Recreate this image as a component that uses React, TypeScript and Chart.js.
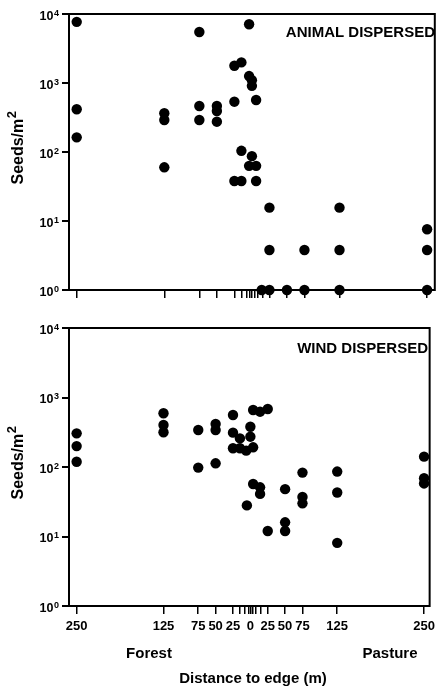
import { useEffect, useRef } from 'react';
import { Chart, registerables } from 'chart.js';

Chart.register(...registerables);

const FONT = '"Liberation Sans", Arial, Helvetica, sans-serif';

// ---- axis ticks ----
const xTickValues = [-250, -125, -75, -50, -25, -15, -8, -3, 0, 4, 8, 15, 25, 50, 75, 125, 250];
const labeledXTicks = [-250, -125, -75, -50, -25, 0, 25, 50, 75, 125, 250];
const yTickValues = [1, 10, 100, 1000, 10000];
const yTickExponents = ['0', '1', '2', '3', '4'];

// ---- ANIMAL DISPERSED ----
const animalDistance = [
  -250, -250, -250,
  -125, -125, -125,
  -75, -75, -75,
  -50, -50, -50,
  -25, -25, -25,
  -15, -15, -15,
  -4, -4, -4,
  0, 0, 0,
  6, 6, 6,
  14,
  25, 25, 25,
  50,
  75, 75,
  125, 125, 125,
  250, 250, 250,
];
const animalSeeds = [
  7700, 416, 163,
  364, 291, 60,
  5490, 464, 291,
  464, 393, 275,
  1780, 536, 38,
  1990, 104, 38,
  7100, 1260, 63,
  1100, 910, 87,
  567, 63, 38,
  1,
  15.6, 3.8, 1,
  1,
  3.8, 1,
  15.6, 3.8, 1,
  7.6, 3.8, 1,
];

// ---- WIND DISPERSED ----
const windDistance = [
  -250, -250, -250,
  -125, -125, -125,
  -75, -75,
  -50, -50, -50,
  -25, -25, -25,
  -15, -15,
  0, 0,
  -6, -5,
  4, 4, 4,
  14, 14, 14,
  25, 25,
  50, 50, 50,
  75, 75, 75,
  125, 125, 125,
  250, 250, 250,
];
const windSeeds = [
  305, 200, 119,
  593, 402, 316,
  341, 98,
  416, 341, 113,
  560, 312, 186,
  258, 186,
  380, 273,
  172, 28,
  661, 192, 57,
  625, 51, 41,
  683, 12,
  48, 16, 12,
  83, 37, 30,
  86, 43, 8.1,
  141, 69, 58,
];

type TextItem = { text: string; x: number; y: number; align: CanvasTextAlign; baseline: CanvasTextBaseline; size: number };

type PanelSpec = {
  distance: number[];
  seeds: number[];
  padTop: number;
  padRight: number;
  xMax: number;
  xAxisHeight: number;
  showXLabels: boolean;
  yTitleY: number;
  texts: TextItem[];
};

function buildChart(canvas: HTMLCanvasElement, spec: PanelSpec) {
  const points = spec.distance.map((d, i) => ({ x: d, y: spec.seeds[i] }));

  const framePlugin = {
    id: 'frame',
    beforeDatasetsDraw(chart: any) {
      const { ctx, chartArea } = chart;
      ctx.save();
      ctx.strokeStyle = '#000';
      ctx.lineWidth = 2;
      ctx.strokeRect(chartArea.left, chartArea.top, chartArea.right - chartArea.left, chartArea.bottom - chartArea.top);
      ctx.restore();
    },
  };

  const textPlugin = {
    id: 'texts',
    afterDraw(chart: any) {
      const { ctx } = chart;
      ctx.save();
      ctx.fillStyle = '#000';
      for (const t of spec.texts) {
        ctx.font = `bold ${t.size}px ${FONT}`;
        ctx.textAlign = t.align;
        ctx.textBaseline = t.baseline;
        ctx.fillText(t.text, t.x, t.y);
      }
      // y tick labels: 10 with superscript exponent, positioned by the log scale
      const yScale = chart.scales.y;
      const right = 59;
      yTickValues.forEach((v, i) => {
        const py = yScale.getPixelForValue(v);
        const exp = yTickExponents[i];
        ctx.font = `bold 9px ${FONT}`;
        const wSup = ctx.measureText(exp).width;
        ctx.textAlign = 'left';
        ctx.textBaseline = 'alphabetic';
        ctx.fillText(exp, right - wSup, py + 1.5);
        ctx.font = `bold 12.5px ${FONT}`;
        ctx.textAlign = 'right';
        ctx.fillText('10', right - wSup - 0.5, py + 5.5);
      });
      // rotated y-axis title "Seeds/m²"
      ctx.translate(17, spec.yTitleY);
      ctx.rotate(-Math.PI / 2);
      const main = 'Seeds/m';
      const sup = '2';
      ctx.font = `bold 16px ${FONT}`;
      const w1 = ctx.measureText(main).width;
      ctx.font = `bold 13px ${FONT}`;
      const w2 = ctx.measureText(sup).width;
      const start = -(w1 + w2) / 2;
      ctx.textAlign = 'left';
      ctx.textBaseline = 'alphabetic';
      ctx.font = `bold 16px ${FONT}`;
      ctx.fillText(main, start, 6);
      ctx.font = `bold 13px ${FONT}`;
      ctx.fillText(sup, start + w1 + 0.5, -1);
      ctx.restore();
    },
  };

  return new Chart(canvas, {
    type: 'scatter',
    data: {
      datasets: [
        {
          data: points,
          backgroundColor: '#000',
          borderColor: '#000',
          borderWidth: 0,
          pointRadius: 5.2,
          pointHoverRadius: 5.2,
          clip: false as any,
        } as any,
      ],
    },
    options: {
      responsive: false,
      animation: false,
      events: [],
      layout: { padding: { top: spec.padTop, right: spec.padRight, left: 0, bottom: 0 } },
      plugins: {
        legend: { display: false },
        tooltip: { enabled: false },
        title: { display: false },
      },
      scales: {
        x: {
          type: 'linear',
          min: -261,
          max: spec.xMax,
          afterBuildTicks: (s: any) => {
            s.ticks = xTickValues.map((v) => ({ value: v }));
          },
          afterFit: (s: any) => {
            s.height = spec.xAxisHeight;
          },
          grid: { drawOnChartArea: false, drawTicks: true, tickLength: 8, color: '#000', lineWidth: 1.5 },
          border: { display: false },
          ticks: {
            autoSkip: false,
            maxRotation: 0,
            minRotation: 0,
            padding: 5,
            color: '#000',
            font: { family: FONT, size: 13, weight: 'bold' },
            callback: (v: any) => (spec.showXLabels && labeledXTicks.includes(Number(v)) ? String(Math.abs(Number(v))) : ''),
          },
        },
        y: {
          type: 'logarithmic',
          min: 1,
          max: 10000,
          afterBuildTicks: (s: any) => {
            s.ticks = yTickValues.map((v) => ({ value: v }));
          },
          afterFit: (s: any) => {
            s.width = 69;
          },
          grid: { drawOnChartArea: false, drawTicks: true, tickLength: 7, color: '#000', lineWidth: 2 },
          border: { display: false },
          ticks: {
            padding: 2,
            color: '#000',
            font: { family: FONT, size: 13, weight: 'bold' },
            callback: () => '',
          },
        },
      },
    } as any,
    plugins: [framePlugin, textPlugin],
  });
}

export default function App() {
  const topRef = useRef<HTMLCanvasElement | null>(null);
  const bottomRef = useRef<HTMLCanvasElement | null>(null);

  useEffect(() => {
    if (!topRef.current || !bottomRef.current) return;
    const top = buildChart(topRef.current, {
      distance: animalDistance,
      seeds: animalSeeds,
      padTop: 14,
      padRight: 2,
      xMax: 261,
      xAxisHeight: 25,
      showXLabels: false,
      yTitleY: 148,
      texts: [{ text: 'ANIMAL DISPERSED', x: 435, y: 37, align: 'right', baseline: 'alphabetic', size: 15 }],
    });
    const bottom = buildChart(bottomRef.current, {
      distance: windDistance,
      seeds: windSeeds,
      padTop: 13,
      padRight: 4,
      xMax: 258,
      xAxisHeight: 84,
      showXLabels: true,
      yTitleY: 148,
      texts: [
        { text: 'WIND DISPERSED', x: 428, y: 38, align: 'right', baseline: 'alphabetic', size: 15 },
        { text: 'Forest', x: 149, y: 339, align: 'center', baseline: 'middle', size: 15 },
        { text: 'Pasture', x: 390, y: 339, align: 'center', baseline: 'middle', size: 15 },
        { text: 'Distance to edge (m)', x: 253, y: 364, align: 'center', baseline: 'middle', size: 15 },
      ],
    });
    return () => {
      top.destroy();
      bottom.destroy();
    };
  }, []);

  return (
    <div style={{ position: 'absolute', left: 0, top: 0, width: 440, height: 690, background: '#fff' }}>
      <canvas ref={topRef} width={440} height={315} style={{ position: 'absolute', left: 0, top: 0, width: 440, height: 315 }} />
      <canvas ref={bottomRef} width={440} height={375} style={{ position: 'absolute', left: 0, top: 315, width: 440, height: 375 }} />
    </div>
  );
}
